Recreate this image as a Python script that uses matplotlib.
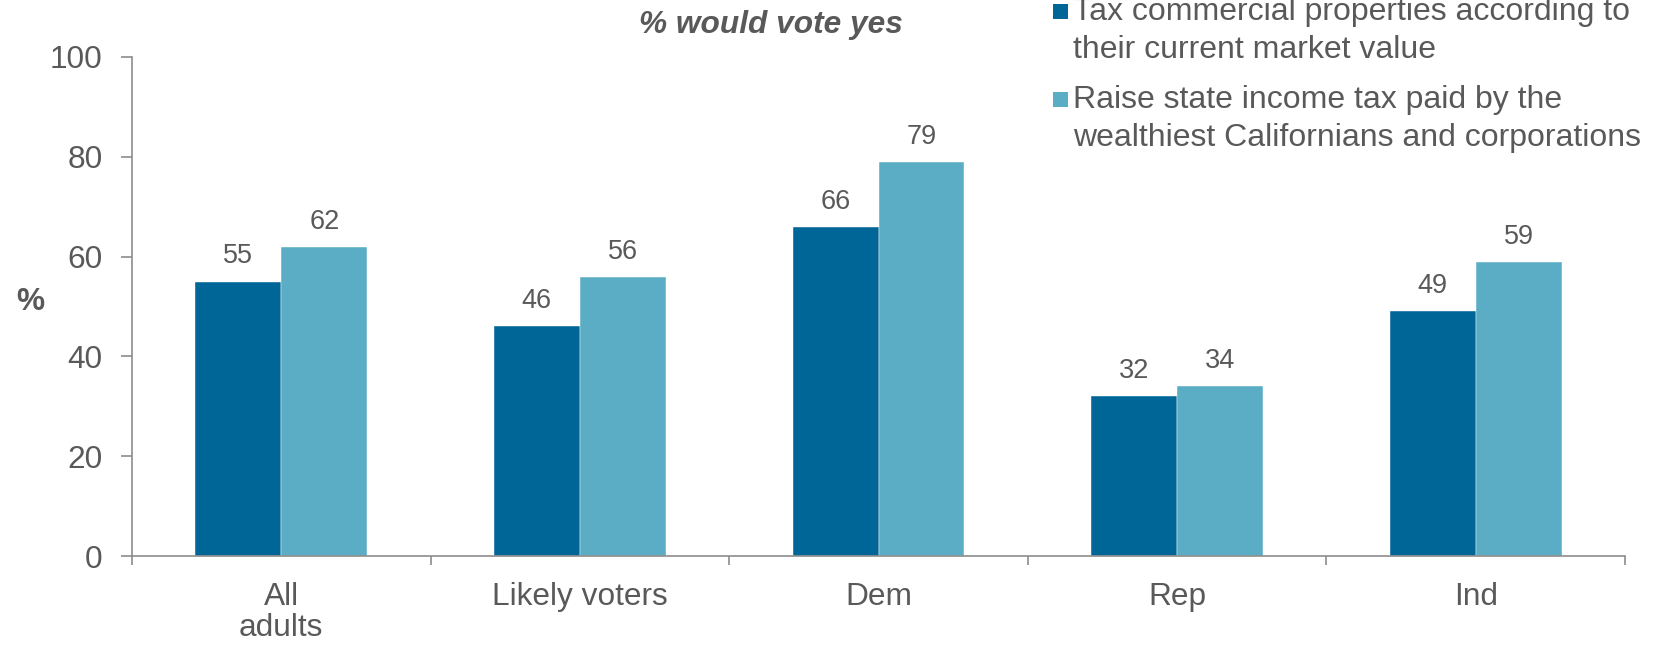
import matplotlib
matplotlib.use("Agg")
import matplotlib.pyplot as plt
from matplotlib.patches import Rectangle
import numpy as np

categories = ["All\nadults", "Likely voters", "Dem", "Rep", "Ind"]
tax_commercial = [55, 46, 66, 32, 49]
raise_income = [62, 56, 79, 34, 59]
series_labels = [
    ["Tax commercial properties according to", "their current market value"],
    ["Raise state income tax paid by the", "wealthiest Californians and corporations"],
]
yticks = [0, 20, 40, 60, 80, 100]

DARK = "#006597"
LIGHT = "#5BADC6"
TXT = "#595959"
AX = "#8C8C8C"
W, H = 1660, 645

plt.rcParams['font.family'] = ['Liberation Sans', 'DejaVu Sans']

fig = plt.figure(figsize=(W / 100, H / 100), dpi=100)
ax = fig.add_axes([132 / W, 1 - 556 / H, (1625 - 132) / W, (556 - 57) / H])

x = np.arange(len(categories))
bw = 0.288
b1 = ax.bar(x - bw / 2, tax_commercial, bw, color=DARK, edgecolor="white", linewidth=0.3)
b2 = ax.bar(x + bw / 2, raise_income, bw, color=LIGHT, edgecolor="white", linewidth=0.3)

for bars, vals in ((b1, tax_commercial), (b2, raise_income)):
    for r, v in zip(bars, vals):
        ax.annotate(f"{v}", (r.get_x() + r.get_width() / 2, v), xytext=(0, 13),
                    textcoords="offset points", ha="center", va="baseline",
                    fontsize=19.5, color=TXT)

ax.set_xlim(-0.5, len(categories) - 0.5)
ax.set_ylim(0, 100)
ax.set_yticks(yticks)
ax.set_yticklabels([str(t) for t in yticks])
ax.set_xticks(x)
ax.set_xticklabels(categories, linespacing=1.05)
ax.set_xticks(np.arange(-0.5, len(categories)), minor=True)
ax.tick_params(axis="x", which="major", length=0, pad=18.5, labelsize=22.8, labelcolor=TXT)
ax.tick_params(axis="x", which="minor", length=6.5, width=1.2, color=AX, direction="out")
ax.tick_params(axis="y", length=8, width=1.2, color=AX, pad=13, labelsize=22.8, labelcolor=TXT)

for s in ("top", "right"):
    ax.spines[s].set_visible(False)
for s in ("left", "bottom"):
    ax.spines[s].set_color(AX)
    ax.spines[s].set_linewidth(1.2)

fig.text(30 / W, 1 - 302 / H, "%", fontsize=22.8, fontweight="bold", color=TXT,
         ha="center", va="center")
fig.text(771 / W, 1 - 25 / H, "% would vote yes", fontsize=22.8, fontweight="bold",
         fontstyle="italic", color=TXT, ha="center", va="center")

# legend
colors = [DARK, LIGHT]
first_baselines = [20, 108]
for lab, col, yb in zip(series_labels, colors, first_baselines):
    fig.patches.append(Rectangle((1053 / W, 1 - (yb - 1) / H), 15 / W, 15 / H,
                                 transform=fig.transFigure, facecolor=col, edgecolor="none"))
    for i, line in enumerate(lab):
        fig.text(1073 / W, 1 - (yb + 38 * i) / H, line, fontsize=23, color=TXT,
                 ha="left", va="baseline")

fig.savefig("out.png", dpi=100)
